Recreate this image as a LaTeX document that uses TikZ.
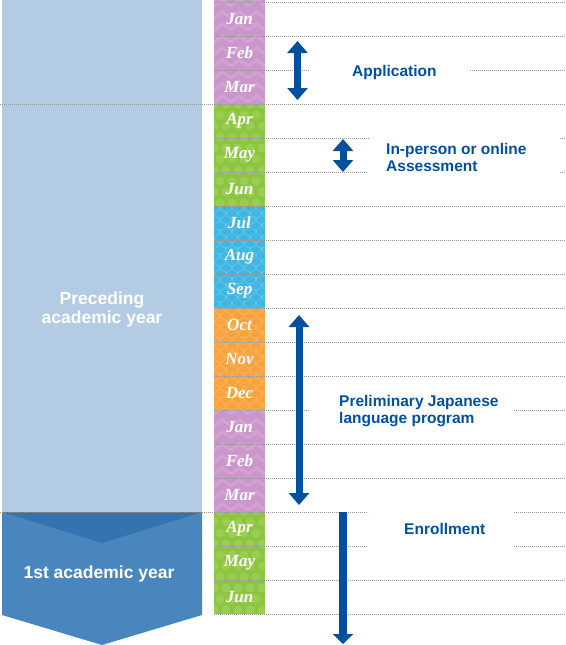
\documentclass[tikz,border=0pt]{standalone}
\usepackage{fontspec}
\setmainfont{Liberation Sans}
\newfontfamily\monthfont{Liberation Serif}
\usetikzlibrary{arrows.meta}
\definecolor{txtblue}{RGB}{0,80,160}
\definecolor{panellight}{RGB}{179,203,227}
\definecolor{panelmid}{RGB}{74,134,190}
\definecolor{paneldark}{RGB}{52,114,176}
\definecolor{mpurple}{RGB}{203,150,204}
\definecolor{mgreen}{RGB}{140,198,62}
\definecolor{mcyan}{RGB}{64,182,226}
\definecolor{morange}{RGB}{249,163,62}
\definecolor{rulegray}{RGB}{150,150,150}
\tikzset{
  rule/.style={draw=rulegray, line width=0.8pt, dash pattern=on 0.8pt off 1.2pt},
  monthlabel/.style={text=white, inner sep=0pt, font=\monthfont\bfseries\itshape\fontsize{17}{17}\selectfont},
  rightlabel/.style={text=txtblue, inner sep=0pt, align=left, font=\bfseries\fontsize{15.5}{17}\selectfont},
  panellabel/.style={text=white, inner sep=0pt, align=center, font=\bfseries\fontsize{17.5}{19}\selectfont},
  dblarrow/.style={draw=txtblue, line width=7pt, {Triangle[width=20pt,length=12pt]}-{Triangle[width=20pt,length=12pt]}},
  downarrow/.style={draw=txtblue, line width=8pt, -{Triangle[width=20pt,length=10pt]}},
  pat/.style={white, opacity=0.13}
}
\begin{document}
\begin{tikzpicture}[x=1pt,y=-1pt]
\useasboundingbox (0,0) rectangle (565,645);
% left panel
\fill[panellight] (2,0) rectangle (202,512);
\fill[panelmid] (2,512) -- (202,512) -- (202,615) -- (102,645) -- (2,615) -- cycle;
\fill[paneldark] (2,512) -- (202,512) -- (102,543) -- cycle;
% month column fills
\fill[mpurple] (214,0) rectangle (265,104);
\fill[mgreen] (214,104) rectangle (265,206);
\fill[mcyan] (214,206) rectangle (265,308);
\fill[morange] (214,308) rectangle (265,410);
\fill[mpurple] (214,410) rectangle (265,512);
\fill[mgreen] (214,512) rectangle (265,614);
% patterns
\begin{scope}
\clip (214,0) rectangle (265,104) (214,410) rectangle (265,512);
\foreach \yy in {0,12,...,516}{
  \foreach \xx in {214,231,248}{
    \draw[pat, line width=3pt] (\xx,\yy+6) -- (\xx+8.5,\yy) -- (\xx+17,\yy+6);
  }
}
\end{scope}
\begin{scope}
\clip (214,104) rectangle (265,206) (214,512) rectangle (265,614);
\foreach \j in {0,...,46}{
  \foreach \i in {0,...,4}{
    \fill[pat] ({214+12*\i+6*mod(\j,2)},{104+11*\j}) circle (4.5);
  }
}
\end{scope}
\begin{scope}
\clip (214,206) rectangle (265,410);
\foreach \j in {0,...,34}{
  \foreach \i in {0,...,4}{
    \draw[pat, line width=1.2pt] ({208+12*\i+6*mod(\j,2)},{206+6*\j}) arc (180:0:6);
  }
}
\end{scope}
% dotted rules
\foreach \yy in {2,36,206,240,274,308,342,376,444,478,580,614}{
  \draw[rule] (214,\yy) -- (565,\yy);
}
\draw[rule] (214,70) -- (309,70);  \draw[rule] (470,70) -- (565,70);
\draw[rule] (0,104) -- (565,104);
\draw[rule] (214,138) -- (369,138); \draw[rule] (560,138) -- (565,138);
\draw[rule] (214,172) -- (367,172); \draw[rule] (560,172) -- (565,172);
\draw[rule] (214,410) -- (309,410); \draw[rule] (514,410) -- (565,410);
\draw[rule] (0,512) -- (368,512); \draw[rule] (514,512) -- (565,512);
\draw[rule] (214,546) -- (367,546); \draw[rule] (514,546) -- (565,546);
% month labels
\foreach \m [count=\k from 0] in {Jan,Feb,Mar,Apr,May,Jun,Jul,Aug,Sep,Oct,Nov,Dec,Jan,Feb,Mar,Apr,May,Jun}{
  \node[monthlabel] (m\k) at (239.5,{19+34*\k}) {\m};
}
% panel labels
\node[panellabel] (prec) at (102,309.6) {Preceding\\academic year};
\node[panellabel, anchor=base] (first) at (99,578.3) {1st academic year};
% arrows
\coordinate (appT) at (297.5,41);  \coordinate (appB) at (297.5,100);
\coordinate (assT) at (343,139);   \coordinate (assB) at (343,172);
\coordinate (preT) at (299,315);   \coordinate (preB) at (299,505);
\coordinate (enrT) at (343,512);   \coordinate (enrB) at (343,644);
\draw[dblarrow] (appT) -- (appB);
\draw[dblarrow] (assT) -- (assB);
\draw[dblarrow] (preT) -- (preB);
\draw[downarrow] (enrT) -- (enrB);
% right labels
\node[rightlabel, anchor=base west] (app) at (352,76) {Application};
\node[rightlabel, anchor=west] (ass) at (386,157.6) {In-person or online\\Assessment};
\node[rightlabel, anchor=west] (pre) at (339,411.2) {Preliminary Japanese\\language program};
\node[rightlabel, anchor=base west] (enr) at (404,534) {Enrollment};
\end{tikzpicture}
\end{document}
